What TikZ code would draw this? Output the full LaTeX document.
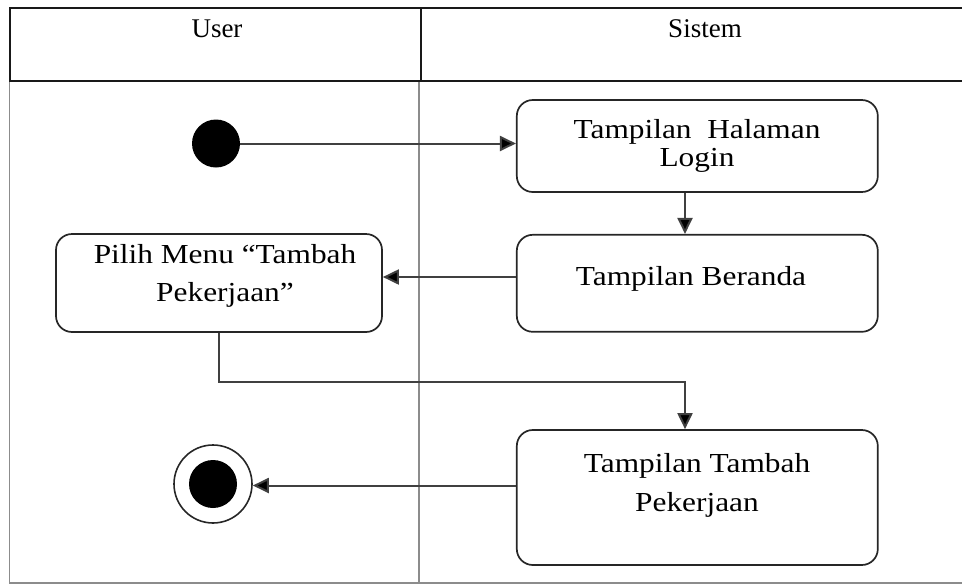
\documentclass[tikz,border=0pt]{standalone}
\usepackage{fontspec}
\setmainfont{Liberation Serif}
\newfontfamily\boxfont{Liberation Serif}[FakeStretch=1.14]
\usetikzlibrary{arrows.meta}
\begin{document}
\begin{tikzpicture}[x=1pt,y=-1pt,
  headline/.style={draw=black!90, line width=2pt},
  bodyline/.style={draw=black!45, line width=1.7pt},
  act/.style={draw=black!85, line width=1.7pt, rounded corners=16pt, inner sep=0pt},
  txt/.style={align=center, inner sep=0pt},
  headtxt/.style={font=\fontsize{27}{30}\selectfont, inner sep=0pt, anchor=base},
  arr/.style={draw=black!75, line width=2pt, -{Triangle[length=16pt,width=15pt,fill=black]}},
]
\useasboundingbox (0,0) rectangle (962,584);
% swimlane frame
\draw[bodyline] (9.5,81) -- (9.5,583) -- (962,583);
\draw[bodyline] (419,81) -- (419,583);
\draw[headline] (962,7.5) -- (9.5,7.5) -- (9.5,81) -- (962,81);
\draw[headline] (421,7.5) -- (421,81);
\node[headtxt] (hu) at (217,37) {User};
\node[headtxt] (hs) at (705,37) {Sistem};

% start / end
\node[circle, fill=black, minimum size=48pt, inner sep=0pt] (start) at (216,143.5) {};
\node[circle, draw=black!85, line width=1.6pt, minimum size=78pt, inner sep=0pt] (end) at (213,484) {};
\node[circle, fill=black, minimum size=48pt, inner sep=0pt] (endin) at (213,484) {};

% activities
\node[act, minimum width=361pt, minimum height=92pt] (b1) at (697.3,146) {};
\node[act, minimum width=361pt, minimum height=97pt] (b2) at (697.3,283.3) {};
\node[act, minimum width=326pt, minimum height=98pt] (b3) at (219,283) {};
\node[act, minimum width=361pt, minimum height=135pt] (b4) at (697.3,497.5) {};

\node[txt, font=\boxfont\fontsize{27.5}{28}\selectfont] (t1) at (697,145.5) {Tampilan\ \ Halaman\\Login};
\node[txt, font=\boxfont\fontsize{27.5}{28}\selectfont] (t2) at (691,278.7) {Tampilan Beranda};
\node[txt, font=\boxfont\fontsize{27.5}{38}\selectfont] (t3) at (225,275.6) {Pilih Menu “Tambah\\Pekerjaan”};
\node[txt, font=\boxfont\fontsize{27.5}{39}\selectfont] (t4) at (697,485) {Tampilan Tambah\\Pekerjaan};

% connectors
\coordinate (colx) at (685,0);
\coordinate (rowb) at (0,277);
\coordinate (rowc) at (0,381.5);
\coordinate (rowe) at (0,485.5);
\draw[arr] (start) -- (b1.west |- start);
\draw[arr] (colx |- b1.south) -- (colx |- b2.north);
\draw[arr] (b2.west |- rowb) -- (b3.east |- rowb);
\draw[arr] (b3.south) -- (b3.south |- rowc) -- (colx |- rowc) -- (colx |- b4.north);
\draw[arr] (b4.west |- rowe) -- (end.east |- rowe);
\end{tikzpicture}
\end{document}
